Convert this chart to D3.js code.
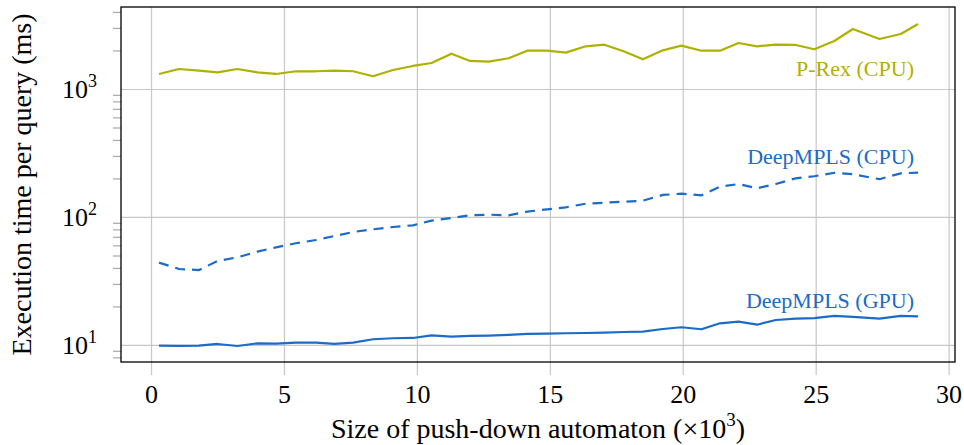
<!DOCTYPE html>
<html>
<head>
<meta charset="utf-8">
<script src="https://cdn.jsdelivr.net/npm/d3@7"></script>
<style>
  body { margin: 0; background: #fff; }
  #chart text { font-family: "Liberation Serif", "DejaVu Serif", serif; }
</style>
</head>
<body>
<div id="chart"></div>
<script>
// automaton sizes (x 10^3) and execution times (ms)
const sizes = [0.3, 1.05, 1.8, 2.5, 3.25, 4.0, 4.7, 5.45, 6.2, 6.9, 7.6, 8.35, 9.1, 9.85,
  10.55, 11.3, 12.0, 12.7, 13.45, 14.15, 14.9, 15.6, 16.35, 17.05, 17.8, 18.5, 19.25,
  19.95, 20.7, 21.4, 22.1, 22.8, 23.5, 24.25, 24.95, 25.7, 26.4, 27.4, 28.2, 28.85];

const prexCpu = [1310, 1433, 1390, 1350, 1433, 1350, 1310, 1375, 1375, 1390, 1375, 1257,
  1407, 1513, 1596, 1887, 1655, 1634, 1738, 1991, 1991, 1922, 2155, 2218, 1960, 1706,
  2005, 2180, 1991, 1991, 2288, 2155, 2218, 2207, 2042, 2371, 2943, 2456, 2690, 3221];

const deepCpu = [44.0, 39.2, 38.5, 45.3, 48.4, 53.6, 57.9, 62.3, 66.1, 71.0, 76.3, 80.1,
  83.5, 86.1, 93.6, 98.2, 103.1, 104.2, 103, 110, 114.8, 119, 127, 129.3, 131.7, 134,
  148.6, 152, 147.7, 172.4, 180.9, 167.5, 181, 200.5, 208, 221.6, 215.6, 197.3, 219.3, 222];

const deepGpu = [9.88, 9.82, 9.88, 10.18, 9.82, 10.3, 10.24, 10.43, 10.43, 10.18, 10.43,
  11.08, 11.28, 11.34, 11.9, 11.6, 11.76, 11.82, 11.97, 12.19, 12.25, 12.34, 12.4, 12.47,
  12.63, 12.7, 13.33, 13.75, 13.26, 14.77, 15.2, 14.4, 15.67, 16.05, 16.2, 16.85, 16.6,
  16.05, 16.85, 16.75];

const xTicks = [0, 5, 10, 15, 20, 25, 30];
const yTicks = [10, 100, 1000];
const yTickExp = ["1", "2", "3"];
const seriesNames = ["P-Rex (CPU)", "DeepMPLS (CPU)", "DeepMPLS (GPU)"];

let draw = () => {
  let W = 964, H = 445;
  let margin = { left: 121, right: 9, top: 7, bottom: 83 };
  let width = W - margin.left - margin.right;
  let height = H - margin.top - margin.bottom;
  let gridColor = "#c6c6c6";
  let olive = "#aeb100";
  let blue = "#1b6bc8";

  let svg = d3.select("#chart").append("svg")
    .attr("width", W).attr("height", H)
    .append("g")
    .attr("transform", `translate(${margin.left}, ${margin.top})`);

  let xScale = d3.scaleLinear().domain([-1.13, 30.24]).range([0, width]);
  let yScale = d3.scaleLog().domain([7.36, 4370]).range([height, 0]);

  // vertical grid + bottom ticks
  svg.append("g")
    .attr("transform", `translate(0, ${height})`)
    .call(d3.axisBottom(xScale).tickValues(xTicks).tickSize(13).tickPadding(10))
    .call((g) => g.select(".domain").remove())
    .call((g) => g.selectAll(".tick line")
      .attr("y1", -height).attr("stroke", gridColor).attr("stroke-width", 1.2))
    .call((g) => g.selectAll(".tick text")
      .attr("fill", "#000").attr("font-size", 26).attr("dy", "0.71em"));

  // minor y ticks
  let minor = yScale.ticks().filter((d) => !yTicks.includes(d));
  svg.append("g")
    .call(d3.axisLeft(yScale).tickValues(minor).tickSize(8).tickFormat(""))
    .call((g) => g.select(".domain").remove())
    .call((g) => g.selectAll(".tick line").attr("stroke", "#a8a8a8").attr("stroke-width", 1.2));

  // major y ticks + horizontal grid
  svg.append("g")
    .call(d3.axisLeft(yScale).tickValues(yTicks).tickSize(12).tickPadding(12))
    .call((g) => g.select(".domain").remove())
    .call((g) => g.selectAll(".tick line")
      .attr("x2", width).attr("stroke", gridColor).attr("stroke-width", 1.2))
    .call((g) => g.selectAll(".tick text").each(function (d, i) {
      let t = d3.select(this).text(null).attr("fill", "#000").attr("font-size", 26);
      t.attr("dy", "0.32em");
      t.append("tspan").text("10");
      t.append("tspan").attr("dy", -11).attr("font-size", 18).text(yTickExp[i]);
    }));

  // frame
  svg.append("rect")
    .attr("width", width).attr("height", height)
    .attr("fill", "none").attr("stroke", "#000").attr("stroke-width", 1.3);

  let line = (vals) => d3.line()
    .x((d, i) => xScale(sizes[i]))
    .y((d) => yScale(d))(vals);

  svg.append("path").attr("d", line(prexCpu))
    .attr("fill", "none").attr("stroke", olive).attr("stroke-width", 2.2)
    .attr("stroke-linejoin", "round");
  svg.append("path").attr("d", line(deepCpu))
    .attr("fill", "none").attr("stroke", blue).attr("stroke-width", 2.2)
    .attr("stroke-dasharray", "10,7");
  svg.append("path").attr("d", line(deepGpu))
    .attr("fill", "none").attr("stroke", blue).attr("stroke-width", 2.2)
    .attr("stroke-linejoin", "round");

  // series labels
  let labelX = 914 - margin.left;
  [[seriesNames[0], 76, olive], [seriesNames[1], 164, blue], [seriesNames[2], 308, blue]]
    .forEach(([txt, yb, c]) => {
      svg.append("text")
        .attr("x", labelX).attr("y", yb - margin.top)
        .attr("text-anchor", "end").attr("font-size", 22).attr("fill", c)
        .text(txt);
    });

  // axis titles
  let xt = svg.append("text")
    .attr("x", width / 2).attr("y", 438 - margin.top)
    .attr("text-anchor", "middle").attr("font-size", 28).attr("fill", "#000");
  xt.append("tspan").text("Size of push-down automaton (\u00d710");
  xt.append("tspan").attr("dy", -12).attr("font-size", 19).text("3");
  xt.append("tspan").attr("dy", 12).text(")");

  svg.append("text")
    .attr("transform", `translate(${31 - margin.left}, ${height / 2}) rotate(-90)`)
    .attr("text-anchor", "middle").attr("font-size", 28).attr("fill", "#000")
    .text("Execution time per query (ms)");
};

draw();
</script>
</body>
</html>
